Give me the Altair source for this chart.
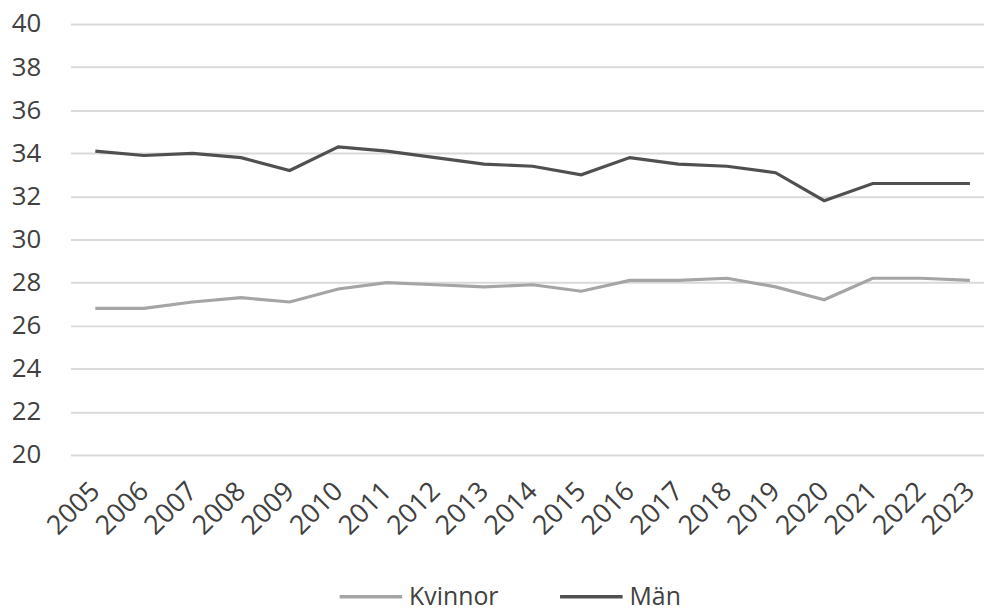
import altair as alt
import pandas as pd

years = list(range(2005, 2024))
kvinnor = [26.8, 26.8, 27.1, 27.3, 27.1, 27.7, 28.0, 27.9, 27.8, 27.9,
           27.6, 28.1, 28.1, 28.2, 27.8, 27.2, 28.2, 28.2, 28.1]
man = [34.1, 33.9, 34.0, 33.8, 33.2, 34.3, 34.1, 33.8, 33.5, 33.4,
       33.0, 33.8, 33.5, 33.4, 33.1, 31.8, 32.6, 32.6, 32.6]
series_names = ["Kvinnor", "Män"]
series_colors = ["#a5a5a5", "#505050"]
y_ticks = list(range(20, 41, 2))
x_domain = [2004.49, 2023.29]

rows = []
for name, vals in zip(series_names, [kvinnor, man]):
    for yr, v in zip(years, vals):
        rows.append({"År": yr, "Värde": v, "Serie": name})
df = pd.DataFrame(rows)

FONT = "Open Sans"
TXT = "#404040"

chart = alt.Chart(df).mark_line(strokeWidth=3.2, strokeJoin="miter").encode(
    x=alt.X("År:Q",
            scale=alt.Scale(domain=x_domain, nice=False, zero=False),
            axis=alt.Axis(title=None, values=years, format="d",
                          labelAngle=-45, labelAlign="right",
                          labelBaseline="middle", labelPadding=32,
                          ticks=False, tickSize=0, domain=False, grid=False,
                          labelFontSize=27, labelFont=FONT, labelColor=TXT,
                          labelOverlap=False, labelFlush=False)),
    y=alt.Y("Värde:Q", scale=alt.Scale(domain=[20, 40], nice=False, zero=False),
            axis=alt.Axis(title=None, values=y_ticks, ticks=False, tickSize=0,
                          domain=False, grid=True, gridColor="#d9d9d9",
                          gridWidth=2, labelPadding=30, labelFontSize=26,
                          labelFont=FONT, labelColor=TXT)),
    color=alt.Color("Serie:N",
                    scale=alt.Scale(domain=series_names, range=series_colors),
                    legend=alt.Legend(title=None, orient="none",
                                      direction="horizontal",
                                      legendX=269, legendY=543,
                                      symbolType="stroke", symbolSize=3969,
                                      symbolStrokeWidth=3.5, labelOffset=5,
                                      columnPadding=54, labelFontSize=25,
                                      labelFont=FONT, labelColor=TXT)),
).properties(
    width=920, height=434,
    background="white",
    autosize=alt.AutoSizeParams(type="none"),
    padding={"left": 63, "top": 14, "right": 0, "bottom": 152},
).configure_view(stroke=None)

chart.save("out.html", embed_options={"renderer": "svg", "actions": False})
